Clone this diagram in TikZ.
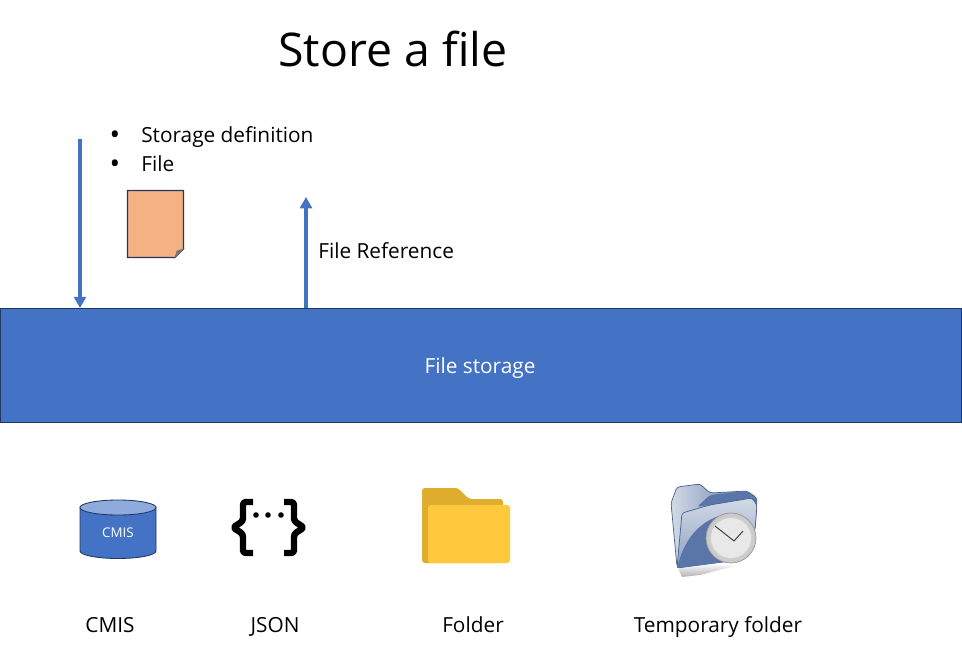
\documentclass[tikz,border=0pt]{standalone}
\usepackage{fontspec}
\setmainfont{Open Sans}
\usetikzlibrary{arrows.meta}
\definecolor{boxblue}{HTML}{4472C4}
\definecolor{boxline}{HTML}{1F3864}
\definecolor{capblue}{HTML}{8FAADC}
\definecolor{fileorange}{HTML}{F4B183}
\definecolor{foldback}{HTML}{E0AE2F}
\definecolor{foldfront}{HTML}{FFC83D}
\definecolor{tempdark}{HTML}{5A76A8}
\definecolor{templight}{HTML}{D3DAE6}
\definecolor{templine}{HTML}{46608F}
\tikzset{
    label text/.style={font=\fontsize{14.8}{18}\selectfont, text=black, anchor=base, inner sep=0pt},
    bullet text/.style={font=\fontsize{20}{20}\selectfont, text=black, anchor=base, inner sep=0pt},
    flow arrow/.style={-{Triangle[length=8pt,width=8.5pt]}, boxblue, line width=2.2pt},
    brace line/.style={line width=4.6pt, line join=round},
}
\begin{document}
\begin{tikzpicture}[x=0.025cm, y=-0.025cm]
    \useasboundingbox (0,0) rectangle (962,653);

    \node[font=\fontsize{33}{40}\selectfont] (title) at (393,49) {Store a file};

    \node[fill=boxblue, draw=boxline, line width=0.7pt, minimum width=24cm, minimum height=2.84cm, inner sep=0pt] (storage) at (481,365.3) {};
    \node[label text, text=white] (storageName) at (480,373) {File storage};

    % request and answer
    \coordinate (requestStart) at (80,139);
    \coordinate (requestEnd) at (80,308);
    \coordinate (answerStart) at (306,308);
    \coordinate (answerEnd) at (306,197);
    \draw[flow arrow] (requestStart) -- (requestEnd);
    \draw[flow arrow] (answerStart) -- (answerEnd);

    \node[bullet text] (bulletOne) at (115,144) {•};
    \node[bullet text] (bulletTwo) at (115,173) {•};
    \node[label text, anchor=base west] (definition) at (141,142) {Storage definition};
    \node[label text, anchor=base west] (file) at (141,171) {File};
    \node[label text, anchor=base west] (reference) at (318,258) {File Reference};

    % the file
    \draw[fill=fileorange, draw=boxline, line width=0.8pt] (127.5,190.5) -- (183.5,190.5) -- (183.5,249) -- (175,257.5) -- (127.5,257.5) -- cycle;
    \draw[fill=fileorange!60!black, draw=boxline!70, line width=0.4pt] (183.5,249) -- (177,251) -- (175,257.5) -- cycle;

    % CMIS
    \draw[fill=boxblue, draw=boxline, line width=0.6pt] (80,507) -- (80,551) arc[start angle=180, end angle=360, x radius=38, y radius=-7.5] -- (156,507) -- cycle;
    \draw[fill=capblue, draw=boxline, line width=0.6pt] (118,507.5) ellipse[x radius=38, y radius=7.5];
    \node[text=white, font=\fontsize{9.5}{11}\selectfont] (cmisLabel) at (118,533) {CMIS};

    % JSON
    \draw[brace line, rounded corners=2pt] (253,502) -- (243,502) -- (243,521) -- (233,527.5) -- (243,534) -- (243,553) -- (253,553);
    \draw[brace line, rounded corners=2pt] (284,502) -- (294,502) -- (294,521) -- (304,527.5) -- (294,534) -- (294,553) -- (284,553);
    \fill (256,515) circle[radius=2.8];
    \fill (268,515) circle[radius=2.8];
    \fill (281,515) circle[radius=2.8];

    % Folder
    \fill[foldback, rounded corners=2pt] (422,563) -- (422,488) -- (458,488) -- (469,499) -- (503,499) -- (503,563) -- cycle;
    \fill[foldfront, rounded corners=2pt] (428,563) -- (428,505) -- (510,505) -- (510,563) -- cycle;

    % Temporary folder
    \shade[top color=white, bottom color=black!30] (678,568) -- (710,563) -- (735,566) -- (700,575) -- (682,577) -- cycle;
    \draw[left color=templight, right color=tempdark, draw=templine, line width=0.5pt, rounded corners=2pt] (677,567) -- (671,503) -- (677,487) -- (700,484) -- (710,493) -- (747,491) -- (757,498) -- (755,530) -- (720,560) -- cycle;
    \fill[tempdark, rounded corners=2pt] (697,507) -- (710,495) -- (747,491) -- (752,498) -- cycle;
    \draw[top color=templight, bottom color=tempdark!70, draw=templine, line width=0.5pt, rounded corners=2pt] (677,568) -- (682,513) -- (710,505) -- (752,498) -- (757,505) -- (755,530) -- (730,561) -- cycle;
    \fill[tempdark] (677,568) .. controls (684,540) and (698,522) .. (722,515) -- (740,530) -- (725,562) -- cycle;
    \shade[inner color=black!5, outer color=black!22, draw=black!40, line width=0.5pt] (731,538) circle[radius=25];
    \fill[black!9] (731,538) circle[radius=20];
    \draw[black!75, line width=0.7pt] (715,526) -- (734,541) -- (743,531);

    \node[label text] (cmisName) at (110,632) {CMIS};
    \node[label text] (jsonName) at (275,632) {JSON};
    \node[label text] (folderName) at (473,632) {Folder};
    \node[label text] (tempName) at (718,632) {Temporary folder};
\end{tikzpicture}
\end{document}
